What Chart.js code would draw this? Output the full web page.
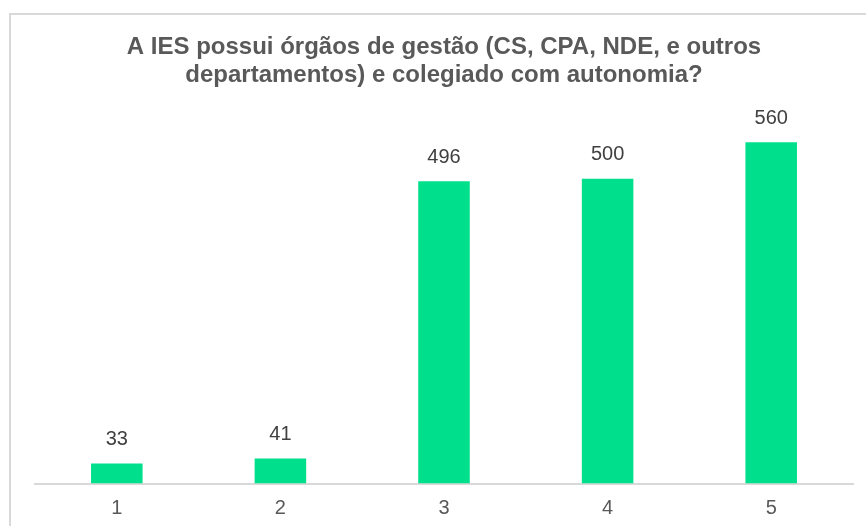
<!DOCTYPE html>
<html>
<head>
<meta charset="utf-8">
<script src="https://cdn.jsdelivr.net/npm/chart.js@4.4.0/dist/chart.umd.min.js"></script>
<style>
  html, body { margin: 0; padding: 0; background: #ffffff; overflow: hidden; }
  #frame { position: absolute; left: 9px; top: 13px; width: 900px; height: 600px; border: 2px solid #d9d9d9; box-sizing: border-box; }
  #c { position: absolute; left: 0; top: 0; }
</style>
</head>
<body>
<div id="frame"></div>
<canvas id="c" width="866" height="526"></canvas>
<script>
const titleLines = ["A IES possui órgãos de gestão (CS, CPA, NDE, e outros", "departamentos) e colegiado com autonomia?"];
const categories = ["1", "2", "3", "4", "5"];
const values = [33, 41, 496, 500, 560];
const barColor = "#00DF8B";

const valueLabels = {
  id: "valueLabels",
  afterDatasetsDraw(chart) {
    const ctx = chart.ctx;
    const meta = chart.getDatasetMeta(0);
    ctx.save();
    ctx.font = "20px 'Liberation Sans', Arial, sans-serif";
    ctx.fillStyle = "#404040";
    ctx.textAlign = "center";
    ctx.textBaseline = "middle";
    meta.data.forEach((bar, i) => {
      ctx.fillText(String(values[i]), bar.x, bar.y - 24);
    });
    ctx.restore();
  }
};

new Chart(document.getElementById("c"), {
  type: "bar",
  data: {
    labels: categories,
    datasets: [{ data: values, backgroundColor: barColor, borderWidth: 0, barPercentage: 0.315, categoryPercentage: 1 }]
  },
  options: {
    responsive: false,
    animation: false,
    devicePixelRatio: 1,
    layout: { padding: { left: 35, right: 13, top: 0, bottom: 0 } },
    plugins: {
      legend: { display: false },
      tooltip: { enabled: false },
      title: {
        display: true,
        text: titleLines,
        color: "#595959",
        font: { family: "'Liberation Sans', Arial, sans-serif", size: 24, weight: "bold", lineHeight: 1.19 },
        padding: { top: 33, bottom: 10 }
      }
    },
    scales: {
      x: {
        grid: { display: false, drawTicks: false },
        border: { display: true, color: "#d9d9d9", width: 2 },
        ticks: { color: "#595959", font: { family: "'Liberation Sans', Arial, sans-serif", size: 20 }, padding: 13 },
        afterFit(scale) { scale.height = 42.5; }
      },
      y: {
        display: false,
        min: 0,
        max: 629
      }
    }
  },
  plugins: [valueLabels]
});
</script>
</body>
</html>
